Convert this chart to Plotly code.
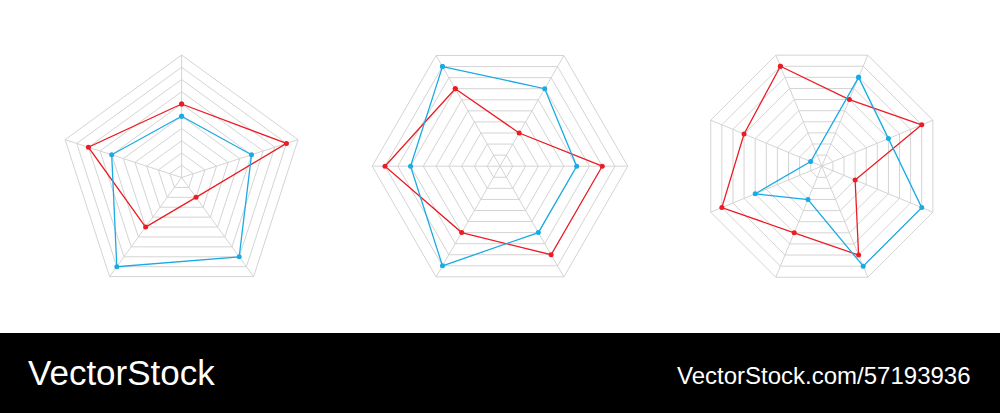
import plotly.graph_objects as go

# three radar charts: pentagon, hexagon, octagon (values on a 0-10 scale)
pent_axes = ['A', 'B', 'C', 'D', 'E']
pent_red = [6, 9, 2, 5, 8]
pent_blue = [5, 6, 8, 9, 6]

hex_axes = ['A', 'B', 'C', 'D', 'E', 'F']
hex_red = [7, 3, 8, 8, 6, 9]
hex_blue = [9, 7, 6, 6, 9, 7]

oct_axes = ['A', 'B', 'C', 'D', 'E', 'F', 'G', 'H']
oct_red = [9, 6, 9, 3, 8, 6, 9, 7]
oct_blue_axes = ['B', 'C', 'D', 'E', 'F', 'G', 'H']
oct_blue = [8, 6, 9, 9, 3, 6, 1]

RED = '#ec1c24'
BLUE = '#19abe3'
GRID = '#d4d4d4'

W, H = 1000, 413


def closed(theta, r):
    return list(theta) + [theta[0]], list(r) + [r[0]]


def add_series(fig, theta, r, color, subplot):
    t, v = closed(theta, r)
    fig.add_trace(go.Scatterpolar(
        theta=t, r=v, mode='lines+markers',
        line=dict(color=color, width=1.3),
        marker=dict(color=color, size=5),
        subplot=subplot, showlegend=False, hoverinfo='skip'))


def polar_layout(cx, cy, rad, axes, rotation):
    # cx, cy, rad in pixels (cy from top)
    return dict(
        domain=dict(x=[(cx - rad) / W, (cx + rad) / W],
                    y=[(H - cy - rad) / H, (H - cy + rad) / H]),
        gridshape='linear',
        bgcolor='white',
        radialaxis=dict(range=[0, 10], dtick=1, showticklabels=False, ticks='',
                        showline=False, gridcolor=GRID, gridwidth=1),
        angularaxis=dict(categoryorder='array', categoryarray=axes,
                         rotation=rotation, direction='clockwise',
                         showticklabels=False, ticks='', showline=True,
                         linecolor=GRID, linewidth=1, gridcolor=GRID, gridwidth=1),
    )


fig = go.Figure()
add_series(fig, pent_axes, pent_red, RED, 'polar')
add_series(fig, pent_axes, pent_blue, BLUE, 'polar')
add_series(fig, hex_axes, hex_red, RED, 'polar2')
add_series(fig, hex_axes, hex_blue, BLUE, 'polar2')
add_series(fig, oct_axes, oct_red, RED, 'polar3')
add_series(fig, oct_blue_axes, oct_blue, BLUE, 'polar3')

fig.update_layout(
    width=W, height=H, autosize=False,
    margin=dict(l=0, r=0, t=0, b=0),
    paper_bgcolor='white', plot_bgcolor='white',
    polar=polar_layout(181.6, 177.5, 122.5, pent_axes, 90),
    polar2=polar_layout(500, 166.2, 127.8, hex_axes, 120),
    polar3=polar_layout(821.8, 166.2, 120.2, oct_axes, 112.5),
    shapes=[dict(type='rect', xref='paper', yref='paper', x0=0, x1=1,
                 y0=0, y1=80 / H, fillcolor='black', line=dict(width=0),
                 layer='below')],
    annotations=[
        dict(text='VectorStock', x=26 / W, y=(H - 372) / H, xref='paper', yref='paper',
             xanchor='left', yanchor='middle', showarrow=False,
             font=dict(family='Liberation Sans, Arial', size=35, color='white')),
        dict(text='VectorStock.com/57193936', x=973 / W, y=(H - 375) / H,
             xref='paper', yref='paper', xanchor='right', yanchor='middle',
             showarrow=False,
             font=dict(family='Liberation Sans, Arial', size=24, color='white')),
    ],
)

# drop the page's default body margin so the figure fills the window
fig.write_html('out.html',
               config={'displayModeBar': False, 'staticPlot': True},
               post_script="document.body.style.margin='0';"
                           "document.body.style.overflow='hidden';")
